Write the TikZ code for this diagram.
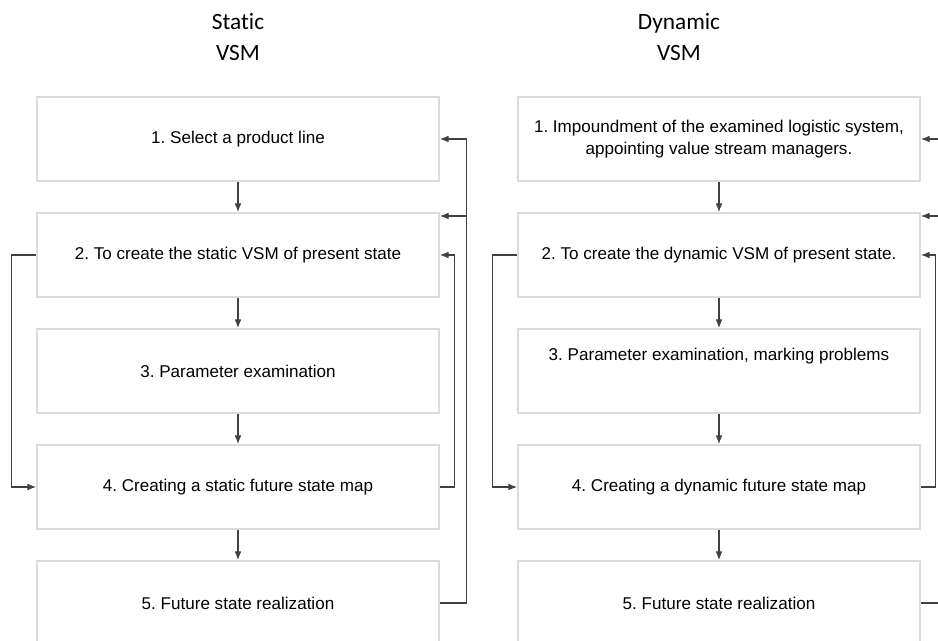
\documentclass[tikz,border=0pt]{standalone}
\usepackage{fontspec}
\setmainfont{Liberation Sans}
\newfontfamily\titlefont[Ligatures=NoCommon]{Carlito}
\usetikzlibrary{arrows.meta}
\frenchspacing

\tikzset{
  stepbox/.style={draw=black!14, line width=1.3pt, minimum width=301.5pt,
    minimum height=63pt, inner sep=0pt, align=center,
    font=\fontsize{12.8}{16}\selectfont},
  heading/.style={align=center, font=\titlefont\fontsize{17.5}{23}\selectfont},
  flow/.style={draw=black!75, line width=0.8pt, -{Latex[length=6.5pt,width=5pt]}},
  link/.style={draw=black!75, line width=0.8pt},
}

\begin{document}
\begin{tikzpicture}[x=0.75pt, y=-0.75pt]
  % Page frame
  \clip (0,0) rectangle (938,641);
  % Headings
  \node[heading] (hs) at (238,37) {Static\\VSM};
  \node[heading] (hd) at (679,37) {Dynamic\\VSM};
  % Static VSM steps
  \node[stepbox] (s1) at (238,139) {1. Select a product line};
  \node[stepbox] (s2) at (238,255) {2. To create the static VSM of present state};
  \node[stepbox] (s3) at (238,371) {3. Parameter examination};
  \node[stepbox] (s4) at (238,487) {4. Creating a static future state map};
  \node[stepbox] (s5) at (238,603) {5. Future state realization};
  % Dynamic VSM steps
  \node[stepbox] (d1) at (719,139) {1. Impoundment of the examined logistic system,\\
    appointing value stream managers.};
  \node[stepbox] (d2) at (719,255) {2. To create the dynamic VSM of present state.};
  \node[stepbox] (d3) at (719,371) {};
  \node[stepbox, draw=none] (d3t) at ([yshift=11pt]d3.center)
    {3. Parameter examination, marking problems};
  \node[stepbox] (d4) at (719,487) {4. Creating a dynamic future state map};
  \node[stepbox] (d5) at (719,603) {5. Future state realization};
  % Main flow
  \foreach \a/\b in {s1/s2,s2/s3,s3/s4,s4/s5,d1/d2,d2/d3,d3/d4,d4/d5}
    \draw[flow] (\a) -- (\b);
  % Static feedback loops
  \draw[flow] (s2.west) -- ++(-25,0) |- (s4.west);
  \draw[flow] (s4.east) -- ++(15,0) |- (s2.east);
  \draw[flow] (s5.east) -- ++(27,0) |- (s1.east);
  \coordinate (sj) at (466,216);
  \draw[flow] (sj) -- (s2.east |- sj);
  % Dynamic feedback loops
  \draw[flow] (d2.west) -- ++(-25,0) |- (d4.west);
  \draw[flow] (d4.east) -- ++(15,0) |- (d2.east);
  \coordinate (dj) at (960,139);
  \coordinate (dk) at (960,216);
  \draw[link] (d5.east) -- (dj |- d5.east) -- (dj);
  \draw[flow] (dj) -- (d1.east);
  \draw[flow] (dk) -- (d2.east |- dk);
\end{tikzpicture}
\end{document}
